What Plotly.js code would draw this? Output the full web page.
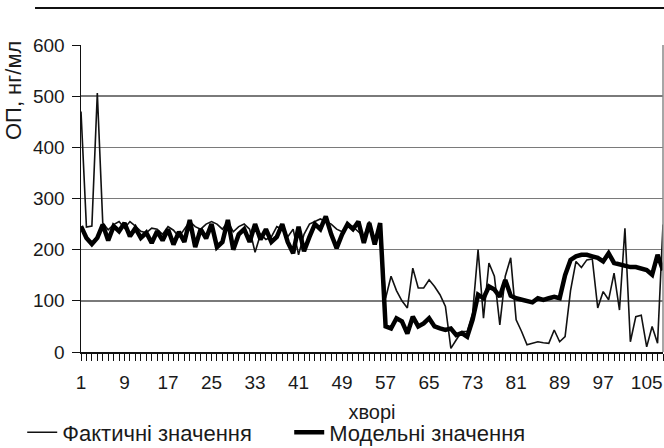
<!DOCTYPE html>
<html>
<head>
<meta charset="utf-8">
<script src="https://cdn.plot.ly/plotly-3.0.1.min.js"></script>
<style>html,body{margin:0;padding:0;background:#fff;}#chart{width:664px;height:448px;}</style>
</head>
<body>
<div id="chart"></div>
<script>
// patients (хворі) 1..108
const patients = Array.from({length:108}, (_, k) => k + 1);
const tickVals = [1, 9, 17, 25, 33, 41, 49, 57, 65, 73, 81, 89, 97, 105];
const yTicks = [0, 100, 200, 300, 400, 500, 600];

// Фактичні значення (actual)
const actual = [
  470,244,246,506,252,239,249,255,242,255,
  246,236,233,242,240,230,245,238,225,240,
  255,245,240,250,255,250,240,255,235,245,
  250,240,195,230,220,225,245,240,225,240,
  190,230,250,255,260,255,250,240,235,250,
  245,235,225,255,220,245,105,148,120,100,
  86,164,125,125,141,128,112,89,7,24,
  40,40,76,200,66,174,148,53,148,184,
  63,40,14,17,20,18,17,43,20,30,
  120,177,165,180,182,86,118,102,154,82,
  242,20,69,72,10,50,17,249
];

// Модельні значення (model)
const model = [
  246,223,211,223,249,218,246,236,252,226,
  242,223,233,213,236,218,240,210,235,215,
  258,205,240,222,250,205,215,258,200,230,
  240,215,250,220,240,215,225,250,215,193,
  245,197,225,250,240,265,230,203,230,250,
  240,255,213,252,210,252,50,46,66,60,
  36,69,50,56,66,50,46,43,46,33,
  37,30,63,112,105,128,122,108,141,110,
  105,102,99,97,105,102,105,108,105,150,
  180,187,190,190,187,184,177,193,174,171,
  167,166,166,164,160,151,190,160
];

const FONT = 'Liberation Sans, Arial, sans-serif';
const TXT = '#1a1a1a';

const traces = [
  {x: patients, y: actual, type: 'scatter', mode: 'lines', name: 'Фактичні значення',
   line: {color: '#111', width: 1.6}},
  {x: patients, y: model, type: 'scatter', mode: 'lines', name: 'Модельні значення',
   line: {color: '#000', width: 4.5}}
];

const layout = {
  width: 664, height: 448,
  margin: {l: 81, r: 1, t: 45, b: 96, autoexpand: false},
  paper_bgcolor: '#fff', plot_bgcolor: '#fff',
  font: {family: FONT, size: 19, color: TXT},
  showlegend: true,
  legend: {orientation: 'h', x: -0.101, xanchor: 'left', y: -0.262, yanchor: 'middle',
           entrywidth: 222, entrywidthmode: 'pixels', font: {family: FONT, size: 22, color: TXT},
           bgcolor: 'rgba(0,0,0,0)', tracegroupgap: 0, itemwidth: 30},
  xaxis: {
    range: [1, 108], tickvals: tickVals, ticktext: tickVals.map(String),
    showgrid: false, zeroline: false, showline: true, linecolor: '#111', linewidth: 1.5,
    ticks: 'outside', ticklen: 7, tickwidth: 1, tickcolor: '#111',
    ticklabelstandoff: 6, ticklabeloverflow: 'allow', automargin: false,
    tickfont: {family: FONT, size: 19, color: TXT},
    minor: {dtick: 1, tick0: 1, ticks: 'outside', ticklen: 7, tickwidth: 1, tickcolor: '#111', showgrid: false},
    title: {text: 'хворі', font: {family: FONT, size: 20, color: TXT}, standoff: 12}
  },
  yaxis: {
    range: [0, 600], tickvals: yTicks, showgrid: true, gridcolor: '#7a7a7a', gridwidth: 1.5,
    zeroline: false, showline: true, linecolor: '#111', linewidth: 1.5, automargin: false,
    ticks: 'outside', ticklen: 8, tickwidth: 1, tickcolor: '#111', ticklabelstandoff: 3,
    tickfont: {family: FONT, size: 19, color: TXT}
  },
  shapes: [
    {type: 'line', xref: 'paper', yref: 'paper', x0: -0.079, x1: 1.01, y0: 1.1205, y1: 1.1205,
     line: {color: '#111', width: 2}},
    {type: 'line', xref: 'paper', yref: 'paper', x0: 1, x1: 1, y0: 0, y1: 1,
     line: {color: '#888', width: 1.5}}
  ],
  annotations: [
    {text: 'ОП, нг/мл', xref: 'paper', yref: 'paper', x: -0.117, y: 0.853,
     textangle: -90, showarrow: false, xanchor: 'center', yanchor: 'middle',
     font: {family: FONT, size: 22, color: TXT}}
  ]
};

Plotly.newPlot('chart', traces, layout, {displayModeBar: false, staticPlot: true});
</script>
</body>
</html>
